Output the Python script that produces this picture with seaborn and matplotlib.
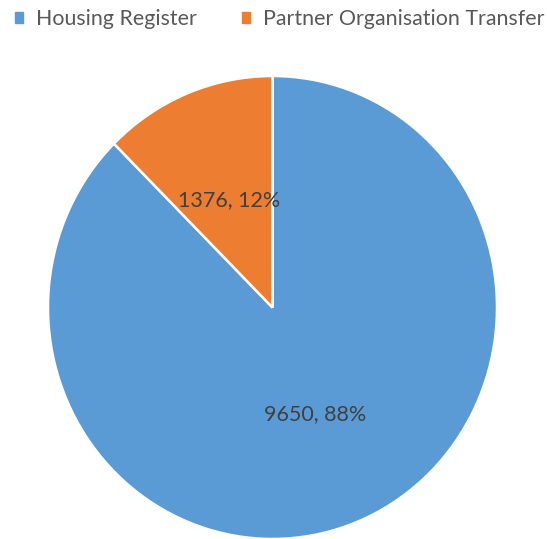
import matplotlib
matplotlib.use("Agg")
import matplotlib.pyplot as plt
from matplotlib.patches import Patch
import seaborn as sns

categories = ["Housing Register", "Partner Organisation Transfer"]
counts = [9650, 1376]
colors = ["#5B9BD5", "#ED7D31"]


def make_label(pct):
    total = sum(counts)
    value = int(round(pct * total / 100.0))
    return f"{value}, {pct:.0f}%"


def main():
    sns.set_theme(style="white")
    plt.rcParams['font.family'] = ['Lato', 'DejaVu Sans']
    palette = sns.color_palette(colors)

    fig = plt.figure(figsize=(5.47, 5.39), dpi=100)
    # pie area in pixel terms: x 48..497, y 76..539 from the top
    ax = fig.add_axes([48 / 547, 0.0, (497 - 48) / 547, (539 - 76) / 539])
    wedges, texts, autotexts = ax.pie(
        counts, colors=palette, startangle=90, counterclock=False,
        autopct=make_label, pctdistance=0.5,
        wedgeprops=dict(edgecolor="white", linewidth=1.8),
        textprops=dict(color="#404040", fontsize=15.5),
    )
    ax.set_xlim(-1, 1)
    ax.set_ylim(-1, 1)
    ax.set_aspect("auto")
    ax.axis("off")

    handles = [Patch(facecolor=c, edgecolor=c) for c in palette]
    fig.legend(handles, categories, loc="upper left", ncol=2,
               bbox_to_anchor=(0.011, 0.999), borderaxespad=0.0,
               frameon=False,
               handlelength=0.38, handleheight=0.38, handletextpad=0.62,
               columnspacing=2.1, labelcolor="#595959",
               prop=dict(family=['Lato', 'DejaVu Sans'], size=15.4))

    fig.savefig("out.png", dpi=100)


if __name__ == "__main__":
    main()
